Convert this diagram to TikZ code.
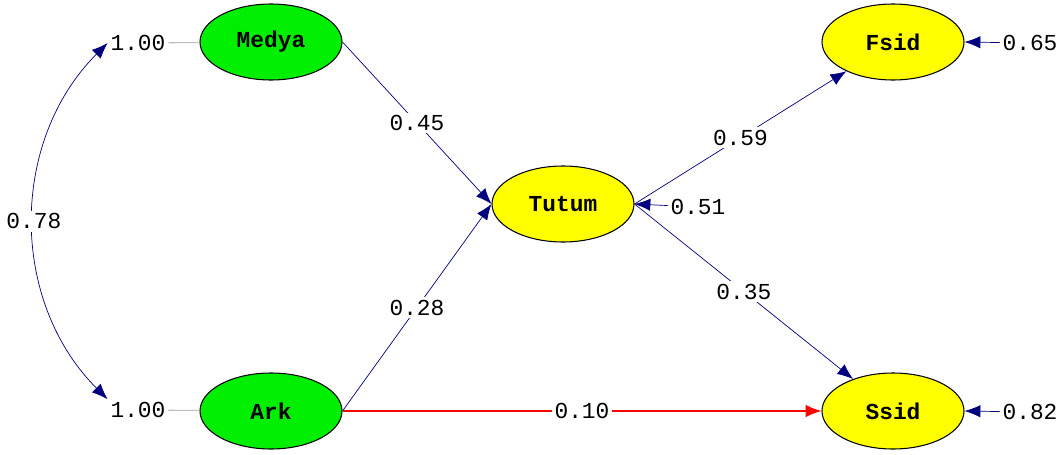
\documentclass[tikz,border=0pt]{standalone}
\usepackage{fontspec}
\setmonofont{Liberation Mono}
\usetikzlibrary{positioning,arrows.meta,shapes.geometric}
\definecolor{pathNavy}{HTML}{00007F}
\definecolor{exoGreen}{HTML}{00EE00}
\definecolor{endoYellow}{HTML}{FFFF00}
\definecolor{weakRed}{HTML}{FF0000}

\tikzset{
  latent/.style={ellipse, draw=black, semithick, minimum width=2.84cm, minimum height=1.52cm,
    font=\ttfamily\bfseries\fontsize{13}{13}\selectfont},
  coef/.style={font=\ttfamily\fontsize{13}{13}\selectfont, text=black, inner sep=1.5pt},
  oncoef/.style={coef, fill=white, midway},
  pathline/.style={pathNavy, thin, -{Latex[length=9pt,width=7pt]}},
}

\begin{document}
\begin{tikzpicture}[>=Stealth]
  \useasboundingbox (0,0) rectangle (21.26,9.08);
  % latent variables
  \node[latent, fill=exoGreen] (medya) at (5.42,8.24) {Medya};
  \node[latent, fill=exoGreen] (ark) at (5.42,0.86) {Ark};
  \node[latent, fill=endoYellow] (tutum) at (11.26,5.0) {Tutum};
  \node[latent, fill=endoYellow] (fsid) at (17.86,8.24) {Fsid};
  \node[latent, fill=endoYellow] (ssid) at (17.86,0.86) {Ssid};
  % variances and error terms
  \node[coef] (vmedya) at (2.76,8.22) {1.00};
  \node[coef] (vark) at (2.76,0.88) {1.00};
  \node[coef] (etutum) at (13.96,4.94) {0.51};
  \node[coef] (efsid) at (20.6,8.22) {0.65};
  \node[coef] (essid) at (20.6,0.84) {0.82};
  \draw[gray!50, semithick] (vmedya) -- (medya);
  \draw[gray!50, semithick] (vark) -- (ark);
  % covariance
  \draw[pathNavy, thin, {Latex[length=9pt,width=7pt]}-{Latex[length=9pt,width=7pt]}]
    (vmedya.west) to[out=225, in=135] node[coef, fill=white, pos=0.5] {0.78} (vark.north west);
  % structural paths
  \draw[pathline] (medya.east) -- (tutum.west) node[oncoef] {0.45};
  \draw[pathline] (ark.east) -- (tutum.west) node[oncoef] {0.28};
  \draw[pathline] (tutum.east) -- (fsid) node[oncoef] {0.59};
  \draw[pathline] (tutum.east) -- (ssid) node[oncoef] {0.35};
  \draw[pathline, weakRed, semithick] (ark.east) -- (ssid.west) node[oncoef] {0.10};
  \draw[pathline] (etutum) -- (tutum.east);
  \draw[pathline] (efsid) -- (fsid.east);
  \draw[pathline] (essid) -- (ssid.east);
\end{tikzpicture}
\end{document}
